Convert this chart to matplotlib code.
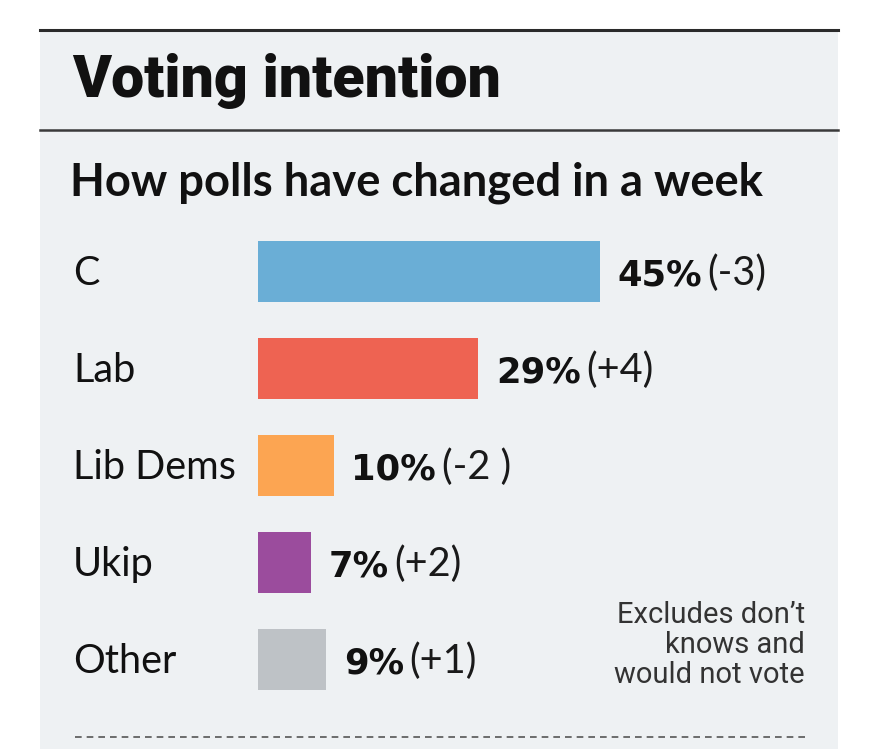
import matplotlib
matplotlib.use("Agg")
import matplotlib.pyplot as plt
from matplotlib.patches import Rectangle
from matplotlib.lines import Line2D
import matplotlib.transforms as mtransforms

parties = ["C", "Lab", "Lib Dems", "Ukip", "Other"]
values = [45, 29, 10, 7, 9]
changes = ["(-3)", "(+4)", "(-2 )", "(+2)", "(+1)"]
colors = ["#6aaed6", "#ee6352", "#fca552", "#9b4c9d", "#bec2c6"]

W, H = 891, 749
fig = plt.figure(figsize=(W / 100, H / 100), dpi=100)
fig.patch.set_facecolor("white")

def fx(px):
    return px / W

def fy(py):
    return 1 - py / H

bg = "#eef1f3"
fig.add_artist(Rectangle((fx(40), 0), fx(838) - fx(40), fy(30), transform=fig.transFigure,
                         facecolor=bg, edgecolor="none", zorder=0))
fig.add_artist(Line2D([fx(40), fx(838)], [fy(30), fy(30)], color="#2a2a2a", lw=2.2, transform=fig.transFigure))
fig.add_artist(Line2D([fx(40), fx(838)], [fy(130), fy(130)], color="#3a3a3a", lw=1.8, transform=fig.transFigure))
fig.add_artist(Line2D([fx(75), fx(808)], [fy(737), fy(737)], color="#555555", lw=1.2,
                      linestyle=(0, (4, 3)), transform=fig.transFigure))

fig.text(fx(72), fy(97), "Voting intention", fontsize=42.5, fontweight="heavy",
         family="Roboto", color="#111111", va="baseline", ha="left")
fig.text(fx(70), fy(195), "How polls have changed in a week", fontsize=32.7, fontweight="bold",
         family="Lato", color="#111111", va="baseline", ha="left")

ax = fig.add_axes([fx(258), fy(690), fx(600) - fx(258), fy(241) - fy(690)])
ax.set_xlim(0, 45)
n = len(parties)
bh = 61 / 97
ax.set_ylim(n - 1 + bh / 2, -bh / 2)
ax.axis("off")
ax.patch.set_alpha(0)

ypos = list(range(n))
ax.barh(ypos, values, height=bh, color=colors, edgecolor="none")

trans = mtransforms.blended_transform_factory(fig.transFigure, ax.transData)
for i, (p, v, c) in enumerate(zip(parties, values, changes)):
    ax.annotate(p, xy=(fx(73), i), xycoords=trans, xytext=(0, -10), textcoords="offset points",
                fontsize=28.5, family="Lato", color="#111111", va="baseline", ha="left",
                annotation_clip=False)
    t = ax.annotate(f"{v}%", xy=(v, i), xytext=(12.5, -10), textcoords="offset points",
                    fontsize=25.5, fontweight="bold", family="DejaVu Sans", color="#111111",
                    va="baseline", ha="left", annotation_clip=False)
    ax.annotate(c, xy=(1, 0), xycoords=t, xytext=(4, 0), textcoords="offset points",
                fontsize=28.5, family="Lato", color="#1a1a1a", va="bottom", ha="left",
                annotation_clip=False)

fig.text(fx(805), fy(645), "Excludes don\u2019t\nknows and\nwould not vote", fontsize=21,
         family="Roboto", color="#333333", va="center", ha="right", linespacing=1.1)

fig.savefig("out.png", dpi=100, facecolor="white")
